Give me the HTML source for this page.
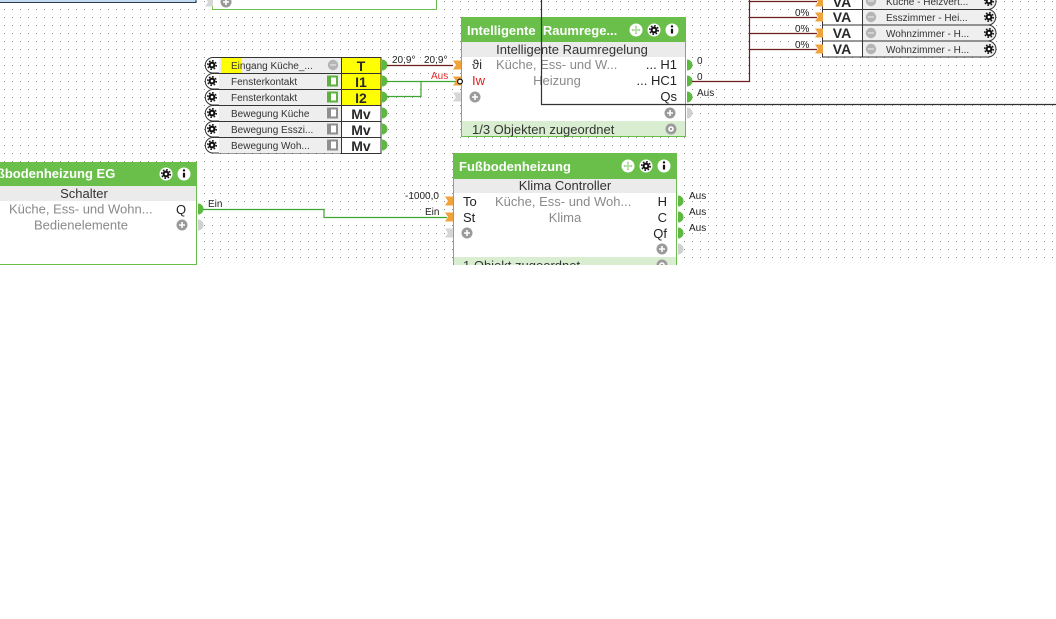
<!DOCTYPE html>
<html><head><meta charset="utf-8"><style>
html,body{margin:0;padding:0;background:#fff;}
svg{display:block;font-family:"Liberation Sans",Arial,sans-serif;}
</style></head><body>
<svg width="1056" height="619" viewBox="0 0 1056 619" xmlns="http://www.w3.org/2000/svg">
<defs>
<pattern id="dots" width="8" height="8" patternUnits="userSpaceOnUse"><rect x="4" y="1" width="1" height="1" fill="#8a8a8a"/></pattern>
<clipPath id="cv"><rect x="0" y="0" width="1056" height="265"/></clipPath>
<g id="gear"><circle r="3.4" fill="#111"/><circle r="4.2" fill="none" stroke="#111" stroke-width="1.6" stroke-dasharray="1.6 1.7"/><circle r="1.3" fill="#fff"/></g>
<g id="hgear"><circle r="6.5" fill="#fff"/><use href="#gear"/></g>
<g id="hinfo"><circle r="6.5" fill="#fff"/><rect x="-1.1" y="-1.2" width="2.2" height="4.7" fill="#111"/><circle cy="-3.6" r="1.2" fill="#111"/></g>
<g id="hmove"><circle r="6.5" fill="#fff"/><path d="M-4 0H4M0 -4V4" stroke="#9fd38c" stroke-width="1.2"/><path d="M-4.5 0l1.5-1.5v3zM4.5 0l-1.5-1.5v3zM0 -4.5l-1.5 1.5h3zM0 4.5l-1.5-1.5h3z" fill="#9fd38c"/></g>
<g id="plus"><circle r="5.5" fill="#9a9a9a"/><path d="M-3 0H3M0 -3V3" stroke="#fff" stroke-width="1.6"/></g>
<g id="fgear"><circle r="5.5" fill="#9a9a9a"/><circle r="2.8" fill="#fff"/><circle r="1.2" fill="#9a9a9a"/></g>
<g id="more"><circle r="5.2" fill="#b5b5b5"/><circle cx="-2" r="0.7" fill="#fff"/><circle r="0.7" fill="#fff"/><circle cx="2" r="0.7" fill="#fff"/></g>
<path id="outG" d="M0 -5.5A5.5 5.5 0 0 1 0 5.5Z" fill="#5cb840"/>
<path id="outGr" d="M0 -5.5A5.5 5.5 0 0 1 0 5.5Z" fill="#d0d0d0"/>
<polygon id="inO" points="0,-4.5 8,-4.5 8,4.5 0,4.5 3,0" fill="#f0a33a"/>
<polygon id="inGr" points="0,-4.5 8,-4.5 8,4.5 0,4.5 3,0" fill="#d6d6d6"/>
<g id="togG"><rect x="0" y="-5.5" width="11" height="11" fill="#5cb13f"/><rect x="4" y="-3.5" width="5" height="7" fill="#fff"/></g>
<g id="togR"><rect x="0" y="-5.5" width="11" height="11" fill="#8f8f8f"/><rect x="4" y="-3.5" width="5" height="7" fill="#fff"/></g>
</defs>
<rect width="1056" height="619" fill="#fff"/>
<g clip-path="url(#cv)">
<rect width="1056" height="265" fill="url(#dots)"/>

<!-- top-left blue box -->
<rect x="-2" y="-10" width="198" height="12.5" fill="#c3daf3" stroke="#2e3b4d" stroke-width="1"/>

<!-- top-mid box -->
<rect x="212.5" y="-20" width="224" height="29.5" fill="#fff" stroke="#6abf4a"/>
<use href="#inGr" x="205" y="2"/>
<use href="#plus" x="226" y="2"/>

<!-- Input list block -->
<g font-size="10" fill="#333">
<g>
<path d="M213 57.5H381V73H213A7.75 7.75 0 0 1 213 57.5Z" fill="#fff" stroke="#333"/>
<rect x="219" y="58" width="122" height="15" fill="#eeeeee"/>
<rect x="221" y="58" width="21" height="15" fill="#ffff00"/>
<use href="#gear" x="212" y="65"/>
<text x="231" y="69">Eingang Küche_...</text>
<use href="#more" x="333" y="65"/>
</g>
<g>
<path d="M213 73.5H381V89H213A7.75 7.75 0 0 1 213 73.5Z" fill="#fff" stroke="#333"/>
<rect x="219" y="74" width="122" height="15" fill="#eeeeee"/>
<use href="#gear" x="212" y="81"/>
<text x="231" y="85">Fensterkontakt</text>
<use href="#togG" x="327" y="81"/>
</g>
<g>
<path d="M213 89.5H381V105H213A7.75 7.75 0 0 1 213 89.5Z" fill="#fff" stroke="#333"/>
<rect x="219" y="90" width="122" height="15" fill="#eeeeee"/>
<use href="#gear" x="212" y="97"/>
<text x="231" y="101">Fensterkontakt</text>
<use href="#togG" x="327" y="97"/>
</g>
<g>
<path d="M213 105.5H381V121H213A7.75 7.75 0 0 1 213 105.5Z" fill="#fff" stroke="#333"/>
<rect x="219" y="106" width="122" height="15" fill="#eeeeee"/>
<use href="#gear" x="212" y="113"/>
<text x="231" y="117">Bewegung Küche</text>
<use href="#togR" x="327" y="113"/>
</g>
<g>
<path d="M213 121.5H381V137H213A7.75 7.75 0 0 1 213 121.5Z" fill="#fff" stroke="#333"/>
<rect x="219" y="122" width="122" height="15" fill="#eeeeee"/>
<use href="#gear" x="212" y="129"/>
<text x="231" y="133">Bewegung Esszi...</text>
<use href="#togR" x="327" y="129"/>
</g>
<g>
<path d="M213 137.5H381V153H213A7.75 7.75 0 0 1 213 137.5Z" fill="#fff" stroke="#333"/>
<rect x="219" y="138" width="122" height="15" fill="#eeeeee"/>
<use href="#gear" x="212" y="145"/>
<text x="231" y="149">Bewegung Woh...</text>
<use href="#togR" x="327" y="145"/>
</g>
</g>
<rect x="341.5" y="57.5" width="39.5" height="16" fill="#ffff00" stroke="#333"/>
<rect x="341.5" y="73.5" width="39.5" height="16" fill="#ffff00" stroke="#333"/>
<rect x="341.5" y="89.5" width="39.5" height="16" fill="#ffff00" stroke="#333"/>
<rect x="341.5" y="105.5" width="39.5" height="16" fill="#fff" stroke="#333"/>
<rect x="341.5" y="121.5" width="39.5" height="16" fill="#fff" stroke="#333"/>
<rect x="341.5" y="137.5" width="39.5" height="16" fill="#fff" stroke="#333"/>
<g font-size="14" font-weight="bold" fill="#2a2a2a" text-anchor="middle">
<text x="361" y="71">T</text>
<text x="361" y="87">I1</text>
<text x="361" y="103">I2</text>
<text x="361" y="119">Mv</text>
<text x="361" y="135">Mv</text>
<text x="361" y="151">Mv</text>
</g>
<use href="#outG" x="382" y="65"/>
<use href="#outG" x="382" y="81"/>
<use href="#outG" x="382" y="97"/>
<use href="#outG" x="382" y="113"/>
<use href="#outG" x="382" y="129"/>
<use href="#outG" x="382" y="145"/>

<!-- connectors from input list -->
<path d="M387 65.5H453" stroke="#6e1c1c" stroke-width="1.2" fill="none"/>
<path d="M387 81.5H457" stroke="#3fa533" stroke-width="1.2" fill="none"/>
<path d="M387 96.5H421V81.5" stroke="#3fa533" stroke-width="1.2" fill="none"/>
<g font-size="10" fill="#222">
<text x="392" y="63">20,9°</text>
<text x="424" y="63">20,9°</text>
</g>
<text x="431" y="79" font-size="10" fill="#e02a2a">Aus</text>

<!-- Intelligente Raumregelung block -->
<rect x="461.5" y="17.5" width="224" height="119" fill="#fff" stroke="#6abf4a"/>
<rect x="461" y="17" width="225" height="25" fill="#6abf4a"/>
<text x="467" y="35" font-size="13" font-weight="bold" fill="#fff">Intelligente&#160; Raumrege...</text>
<use href="#hmove" x="636" y="30"/>
<use href="#hgear" x="654" y="30"/>
<use href="#hinfo" x="672" y="30"/>
<rect x="462" y="42" width="223" height="15" fill="#ebebeb"/>
<rect x="462" y="121" width="223" height="15" fill="#d9eed1"/>
<g font-size="13" fill="#333">
<text x="572" y="54" text-anchor="middle">Intelligente Raumregelung</text>
<text x="472" y="69">ϑi</text>
<text x="472" y="85" fill="#e02020">Iw</text>
<text x="496" y="69" fill="#8a8a8a">Küche, Ess- und W...</text>
<text x="557" y="85" fill="#8a8a8a" text-anchor="middle">Heizung</text>
<text x="677" y="69" text-anchor="end" fill="#222">... H1</text>
<text x="677" y="85" text-anchor="end" fill="#222">... HC1</text>
<text x="677" y="101" text-anchor="end" fill="#222">Qs</text>
<text x="472" y="134">1/3 Objekten zugeordnet</text>
</g>
<use href="#plus" x="475" y="97"/>
<use href="#plus" x="670" y="113"/>
<use href="#fgear" x="671" y="129"/>
<use href="#inO" x="453" y="65"/>
<use href="#inO" x="453" y="81"/>
<circle cx="460" cy="81.5" r="2.4" fill="#fff" stroke="#111" stroke-width="1.2"/>
<use href="#inGr" x="453" y="97"/>
<use href="#outG" x="687" y="65"/>
<use href="#outG" x="687" y="81"/>
<use href="#outG" x="687" y="97"/>
<use href="#outGr" x="687" y="113"/>
<g font-size="10" fill="#222">
<text x="697" y="64">0</text>
<text x="697" y="80">0</text>
<text x="697" y="96">Aus</text>
</g>

<!-- brown connectors to VA -->
<path d="M692 81.5H749.5V0" stroke="#6e1c1c" stroke-width="1.2" fill="none"/>
<path d="M749.5 1.5H817M749.5 17.5H817M749.5 33.5H817M749.5 49.5H817" stroke="#6e1c1c" stroke-width="1.2" fill="none"/>
<g font-size="10" fill="#222">
<text x="795" y="16">0%</text>
<text x="795" y="32">0%</text>
<text x="795" y="48">0%</text>
</g>

<!-- VA block -->
<g>
<path d="M822.5 -6.5H988A8 8 0 0 1 988 9.5H822.5Z" fill="#efefef" stroke="#333"/>
<path d="M822.5 9.5H988A7.75 7.75 0 0 1 988 25H822.5Z" fill="#efefef" stroke="#333"/>
<path d="M822.5 25H988A8 8 0 0 1 988 41H822.5Z" fill="#efefef" stroke="#333"/>
<path d="M822.5 41H988A8 8 0 0 1 988 57H822.5Z" fill="#efefef" stroke="#333"/>
<rect x="822.5" y="-6.5" width="40" height="16" fill="#fff" stroke="#333"/>
<rect x="822.5" y="9.5" width="40" height="15.5" fill="#fff" stroke="#333"/>
<rect x="822.5" y="25" width="40" height="16" fill="#fff" stroke="#333"/>
<rect x="822.5" y="41" width="40" height="16" fill="#fff" stroke="#333"/>
<g font-size="14" font-weight="bold" fill="#2a2a2a" text-anchor="middle">
<text x="842" y="7">VA</text>
<text x="842" y="22">VA</text>
<text x="842" y="38">VA</text>
<text x="842" y="54">VA</text>
</g>
<use href="#more" x="871" y="1"/>
<use href="#more" x="871" y="17"/>
<use href="#more" x="871" y="33"/>
<use href="#more" x="871" y="49"/>
<g font-size="10" fill="#333">
<text x="886" y="5">Küche - Heizvert...</text>
<text x="886" y="21">Esszimmer - Hei...</text>
<text x="886" y="37">Wohnzimmer - H...</text>
<text x="886" y="53">Wohnzimmer - H...</text>
</g>
<use href="#gear" x="989" y="1"/>
<use href="#gear" x="989" y="17"/>
<use href="#gear" x="989" y="33"/>
<use href="#gear" x="989" y="49"/>
<use href="#inO" x="815" y="2"/>
<use href="#inO" x="815" y="17"/>
<use href="#inO" x="815" y="33"/>
<use href="#inO" x="815" y="49"/>
</g>

<!-- Fußbodenheizung EG block (cut) -->
<rect x="-10" y="162.5" width="206.5" height="102" fill="#fff" stroke="#6abf4a"/>
<rect x="-10" y="162" width="207" height="24" fill="#6abf4a"/>
<text x="-19" y="178" font-size="13" font-weight="bold" fill="#fff">Fußbodenheizung EG</text>
<use href="#hgear" x="166" y="174"/>
<use href="#hinfo" x="184" y="174"/>
<rect x="-10" y="186" width="206" height="15" fill="#ebebeb"/>
<g font-size="13">
<text x="84" y="198" text-anchor="middle" fill="#333">Schalter</text>
<text x="9" y="213.5" fill="#8a8a8a">Küche, Ess- und Wohn...</text>
<text x="176" y="214" fill="#222">Q</text>
<text x="34" y="229.5" fill="#8a8a8a">Bedienelemente</text>
</g>
<use href="#plus" x="182" y="225"/>
<use href="#outG" x="198" y="209"/>
<use href="#outGr" x="198" y="225"/>
<path d="M203 209.5H324V217.5H447" stroke="#3fa533" stroke-width="1.2" fill="none"/>
<g font-size="10" fill="#222">
<text x="208" y="207">Ein</text>
<text x="425" y="215">Ein</text>
<text x="405" y="199">-1000,0</text>
</g>

<!-- Fußbodenheizung block -->
<rect x="453.5" y="153.5" width="223" height="130" fill="#fff" stroke="#6abf4a"/>
<rect x="453" y="153" width="224" height="26" fill="#6abf4a"/>
<text x="459" y="171" font-size="13" font-weight="bold" fill="#fff">Fußbodenheizung</text>
<use href="#hmove" x="628" y="166"/>
<use href="#hgear" x="646" y="166"/>
<use href="#hinfo" x="664" y="166"/>
<rect x="454" y="179" width="222" height="14" fill="#ebebeb"/>
<rect x="454" y="257" width="222" height="20" fill="#d9eed1"/>
<g font-size="13" fill="#222">
<text x="565" y="190" text-anchor="middle" fill="#333">Klima Controller</text>
<text x="463" y="206">To</text>
<text x="463" y="222">St</text>
<text x="495" y="206" fill="#8a8a8a">Küche, Ess- und Woh...</text>
<text x="565" y="222" fill="#8a8a8a" text-anchor="middle">Klima</text>
<text x="667" y="206" text-anchor="end">H</text>
<text x="667" y="222" text-anchor="end">C</text>
<text x="667" y="238" text-anchor="end">Qf</text>
<text x="463" y="270" fill="#333">1 Objekt zugeordnet</text>
</g>
<use href="#plus" x="467" y="233"/>
<use href="#plus" x="662" y="249"/>
<use href="#fgear" x="662" y="265"/>
<use href="#inO" x="445" y="201"/>
<use href="#inO" x="445" y="217"/>
<use href="#inGr" x="445" y="233"/>
<use href="#outG" x="678" y="201"/>
<use href="#outG" x="678" y="217"/>
<use href="#outG" x="678" y="233"/>
<use href="#outGr" x="678" y="249"/>
<g font-size="10" fill="#222">
<text x="689" y="199">Aus</text>
<text x="689" y="215">Aus</text>
<text x="689" y="231">Aus</text>
</g>

<!-- dark connector on top -->
<path d="M541.5 0V104.5H1056" stroke="#333" stroke-width="1.2" fill="none"/>
</g>
</svg>
</body></html>
